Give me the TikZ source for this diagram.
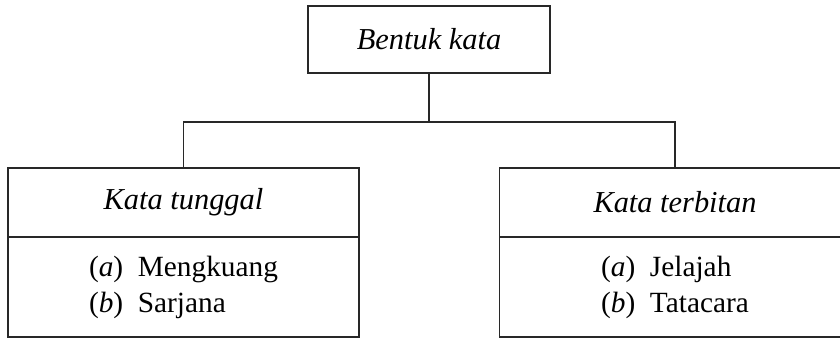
\documentclass[tikz,border=0pt]{standalone}
\usepackage{fontspec}
\setmainfont{Liberation Serif}
\usetikzlibrary{positioning}

\tikzset{every picture/.style={line width=0.9pt}}
\tikzset{
  katabox/.style={draw={rgb,255:red,40;green,40;blue,40}, outer sep=0pt, inner sep=0pt,
    font=\fontsize{22}{27}\selectfont, align=center},
  headbox/.style={katabox, minimum width=263.25pt, minimum height=51.75pt,
    font=\fontsize{22.8}{27}\selectfont},
  listbox/.style={katabox, minimum width=263.25pt, minimum height=75pt, align=left}
}

\begin{document}
\begin{tikzpicture}[x=0.75pt,y=0.75pt,yscale=-1,xscale=1]
\clip (0,0) rectangle (840,338);

% Top box
\node [headbox, minimum width=181.5pt, minimum height=50.25pt] (bentuk) at (429,39.5) {\textit{Bentuk kata}};

% Left box
\node [headbox] (tunggal) at (183.5,202.5) {\textit{Kata tunggal}};
\node [listbox, below=0pt of tunggal] (tunggallist) {(\textit{a})\enspace Mengkuang\\(\textit{b})\enspace Sarjana};

% Right box
\node [headbox] (terbitan) at (675,202.5) {\textit{Kata terbitan}};
\node [listbox, below=0pt of terbitan] (terbitanlist) {(\textit{a})\enspace Jelajah\\(\textit{b})\enspace Tatacara};

% Connectors
\coordinate (fork) at (429,122);
\draw [color={rgb,255:red,40;green,40;blue,40}] (bentuk.south) -- (fork);
\draw [color={rgb,255:red,40;green,40;blue,40}] (tunggal.north) |- (fork) -| (terbitan.north);

\end{tikzpicture}
\end{document}
